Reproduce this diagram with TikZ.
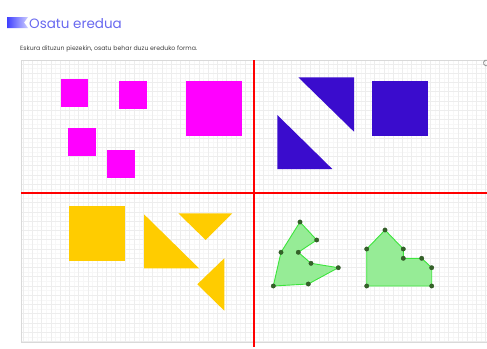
\documentclass[tikz,border=0pt]{standalone}
\usepackage{fontspec}
\setmainfont{Poppins}
\definecolor{titleblue}{RGB}{105,105,240}
\definecolor{axisred}{RGB}{255,0,0}
\definecolor{piecemagenta}{RGB}{255,0,255}
\definecolor{pieceblue}{RGB}{58,12,205}
\definecolor{pieceyellow}{RGB}{255,204,0}
\definecolor{polyfill}{RGB}{150,236,150}
\definecolor{polyline}{RGB}{60,228,60}
\definecolor{polydot}{RGB}{52,98,40}
\begin{document}
\begin{tikzpicture}[x = {(1pt,0pt)},
	y = {(0pt,-1pt)},
	redaxis/.style = {draw=axisred, line width=2.2pt},
	magentapiece/.style = {fill=piecemagenta},
	bluepiece/.style = {fill=pieceblue},
	yellowpiece/.style = {fill=pieceyellow},
	greenpoly/.style = {fill=polyfill, draw=polyline, line width=0.9pt, line join=round},
	vertex/.style = {fill=polydot, draw=polydot!80!black, line width=0.3pt}]
	\useasboundingbox[fill=white] (0,0) rectangle (487,348);
	
	% header
	\shade[left color=blue!75!white, right color=blue!20!white] (7,17) -- (28,17) -- (24,22.5) -- (28,28) -- (7,28) -- cycle;
	\node[anchor=base west, inner sep=0, text=titleblue, font=\fontsize{13.5}{16}\selectfont] (title) at (29,28.5) {Osatu eredua};
	\node[anchor=base west, inner sep=0, text=black!75, font=\fontsize{6.2}{7}\selectfont] (instr) at (20,50) {Eskura dituzun piezekin, osatu behar duzu ereduko forma.};
	
	% grid
	\begin{scope}
	\clip (21,60) rectangle (487,342);
	\draw[black!3, line width=0.3pt, shift={(254.3,193.3)}, step=4.625pt] (-240,-140) grid (240,160);
	\draw[black!7, line width=0.4pt, shift={(254.3,193.3)}, step=9.25pt] (-240,-140) grid (240,160);
	\end{scope}
	\draw[black!15, line width=0.4pt] (487,60) -- (21,60) -- (21,342) -- (487,342);
	
	% magenta
	\fill[magentapiece] (61,79) rectangle (88,107);
	\fill[magentapiece] (119,81) rectangle (147,108.5);
	\fill[magentapiece] (67.5,127.5) rectangle (95.5,155.5);
	\fill[magentapiece] (106.5,149.5) rectangle (135,177.5);
	\fill[magentapiece] (185.5,80.5) rectangle (242,136);
	
	% blue
	\fill[bluepiece] (298.3,77.3) -- (354,77.3) -- (354,131.7) -- cycle;
	\fill[bluepiece] (277.3,115) -- (277.3,169) -- (332.3,169) -- cycle;
	\fill[bluepiece] (372.3,80.7) rectangle (428.3,136);
	
	% yellow
	\fill[yellowpiece] (69,206) rectangle (125,261);
	\fill[yellowpiece] (144,214.3) -- (144,268.3) -- (199,268.3) -- cycle;
	\fill[yellowpiece] (178.3,213.3) -- (232.3,213.3) -- (205.7,240) -- cycle;
	\fill[yellowpiece] (224.3,258.3) -- (224.3,310.7) -- (197.3,284.3) -- cycle;
	
	% axes
	\draw[redaxis] (254.3,60) -- (254.3,347);
	\draw[redaxis] (21,193.3) -- (487,193.3);
	
	% green
	\filldraw[greenpoly] (300,222) -- (316.7,240) -- (298.3,252.3) -- (311,263.3) -- (338.3,267.7) -- (308.3,284) -- (273.3,286) -- (281,252.3) -- cycle;
	\filldraw[greenpoly] (385,230) -- (403.3,249) -- (403.3,258.3) -- (421.7,258.3) -- (431.7,267.7) -- (431.7,286) -- (366.7,286) -- (366.7,249) -- cycle;
	
	\filldraw[vertex] (300,222) circle (2.2pt);
	\filldraw[vertex] (316.7,240) circle (2.2pt);
	\filldraw[vertex] (298.3,252.3) circle (2.2pt);
	\filldraw[vertex] (311,263.3) circle (2.2pt);
	\filldraw[vertex] (338.3,267.7) circle (2.2pt);
	\filldraw[vertex] (308.3,284) circle (2.2pt);
	\filldraw[vertex] (273.3,286) circle (2.2pt);
	\filldraw[vertex] (281,252.3) circle (2.2pt);
	\filldraw[vertex] (385,230) circle (2.2pt);
	\filldraw[vertex] (403.3,249) circle (2.2pt);
	\filldraw[vertex] (403.3,258.3) circle (2.2pt);
	\filldraw[vertex] (421.7,258.3) circle (2.2pt);
	\filldraw[vertex] (431.7,267.7) circle (2.2pt);
	\filldraw[vertex] (431.7,286) circle (2.2pt);
	\filldraw[vertex] (366.7,286) circle (2.2pt);
	\filldraw[vertex] (366.7,249) circle (2.2pt);
	
	% reset icon
	\draw[black!45, line width=0.8pt] (488,65.5) arc (60:300:3);
\end{tikzpicture}
\end{document}
